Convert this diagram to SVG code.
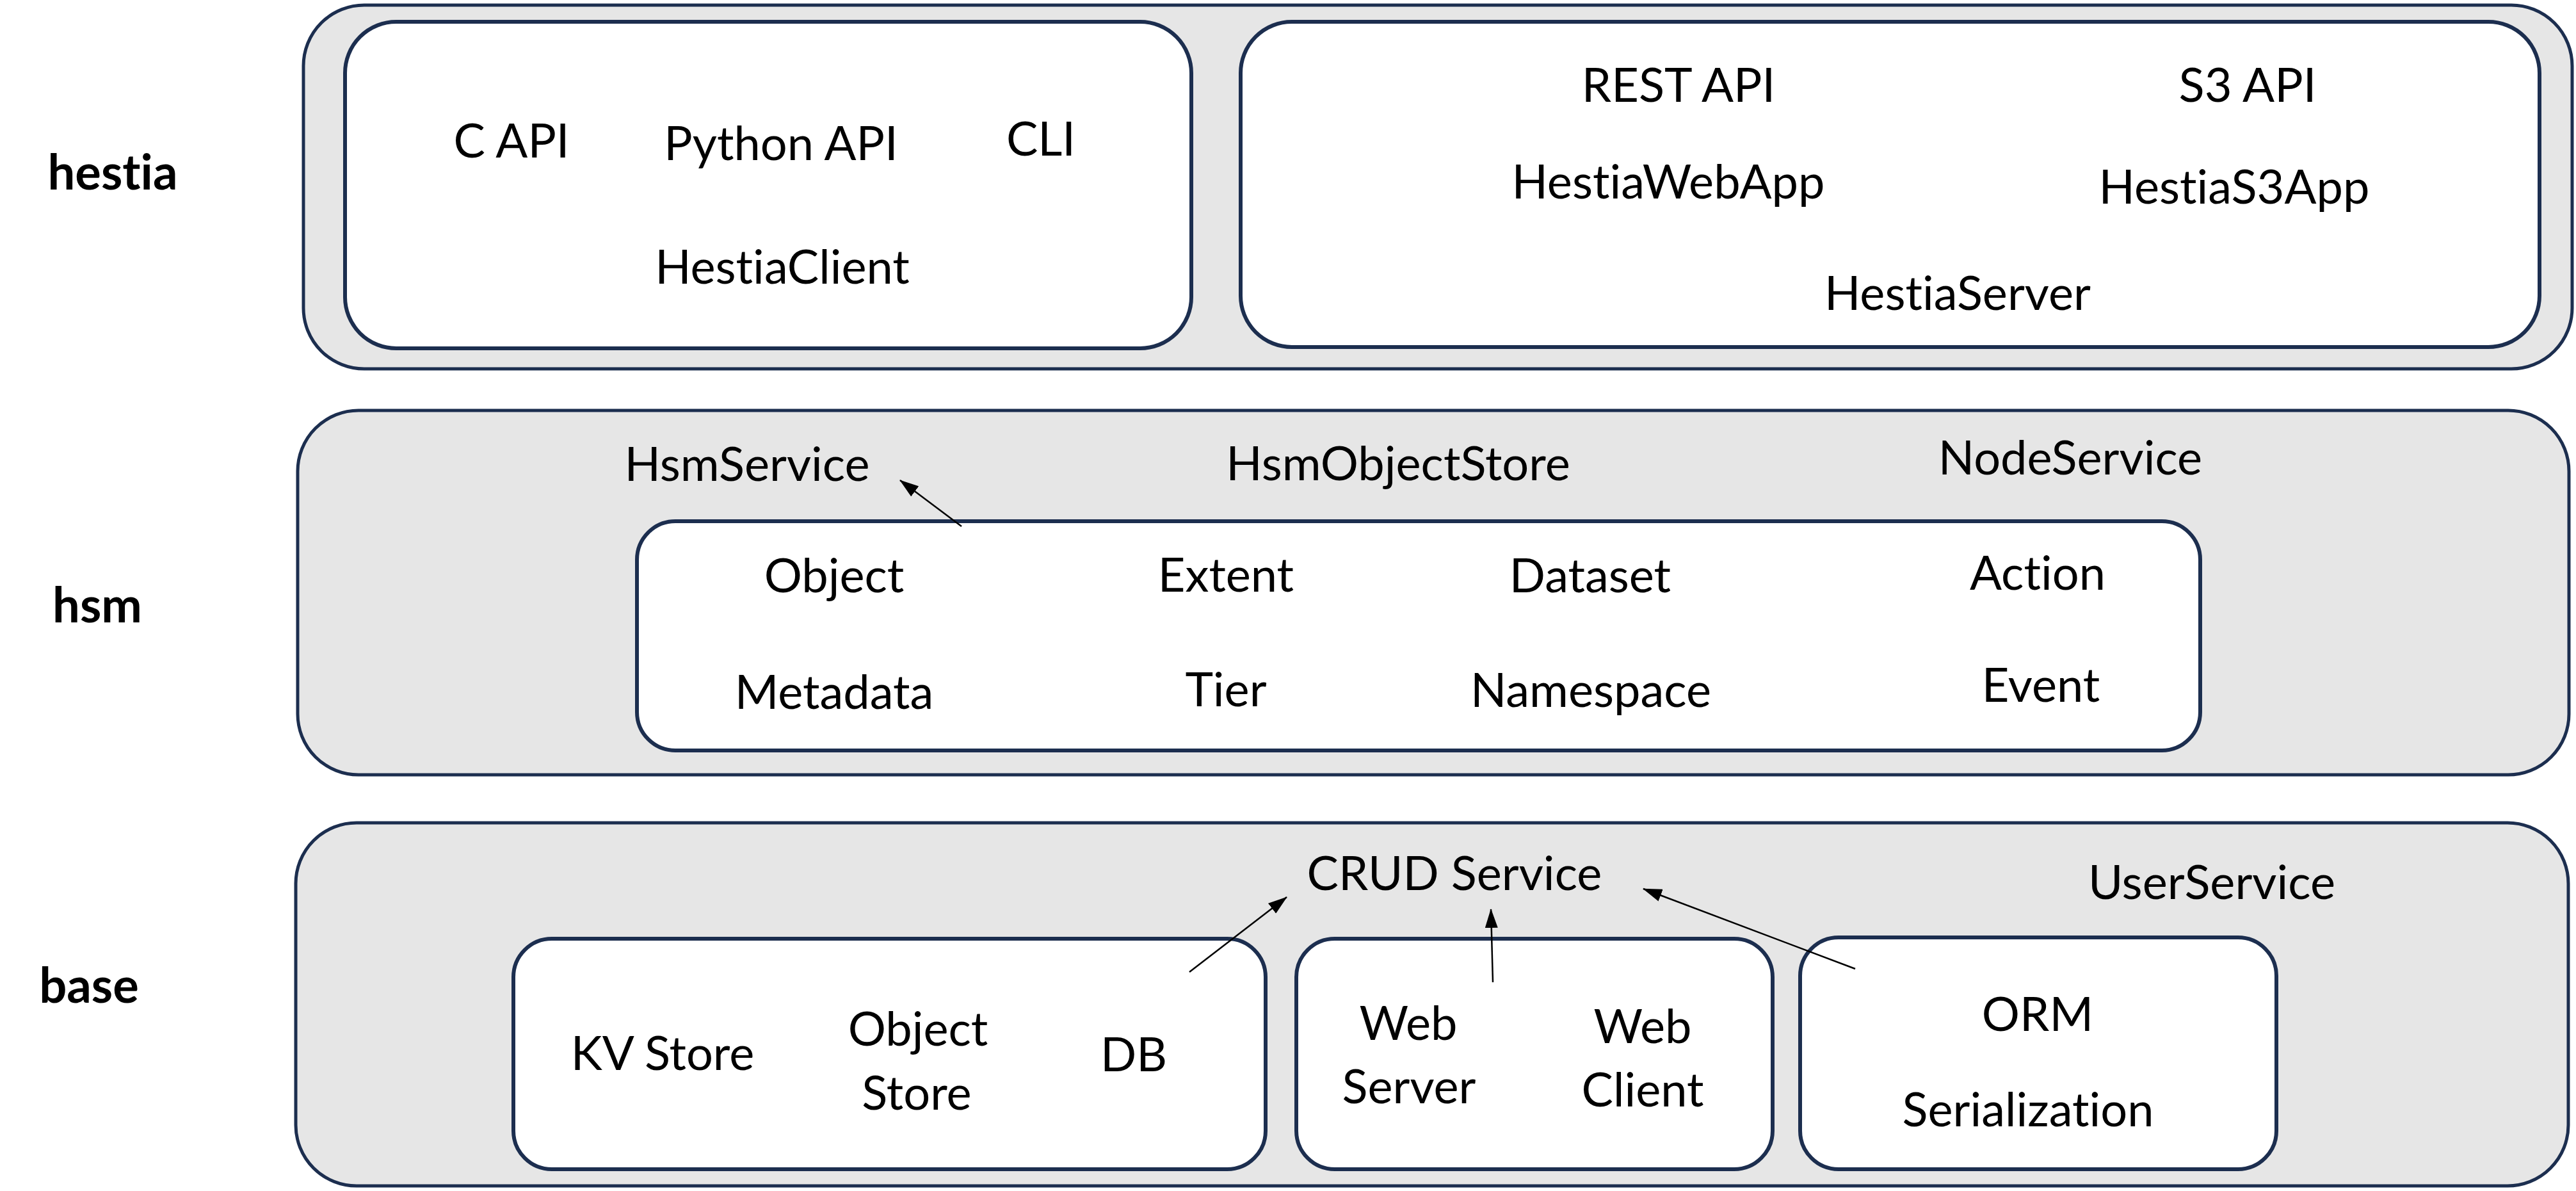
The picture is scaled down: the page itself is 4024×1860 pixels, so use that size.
<svg xmlns="http://www.w3.org/2000/svg" width="4024" height="1860" viewBox="0 0 4024 1860">
<style>
.outer{fill:#E6E6E6;stroke:#1C2E4F;stroke-width:5}
.inner{fill:#FFFFFF;stroke:#1C2E4F;stroke-width:6}
.t{font-family:Lato,"Liberation Sans",sans-serif;font-size:74px;fill:#000;text-anchor:middle;font-variant-ligatures:none}
.lbl{font-family:Lato,"Liberation Sans",sans-serif;font-size:76px;font-weight:bold;fill:#000;text-anchor:middle;font-variant-ligatures:none}
.c{stroke:#000;stroke-width:2.5;fill:none}
</style>
<defs>
<marker id="ah" markerUnits="userSpaceOnUse" markerWidth="30" markerHeight="20" viewBox="0 0 30 20" refX="29" refY="10" orient="auto">
<path d="M0,0 L30,10 L0,20 z" fill="#000"/>
</marker>
</defs>
<rect width="4024" height="1860" fill="#FFFFFF"/>

<g id="layer-hestia">
<rect class="outer" x="474" y="8" width="3544" height="568" rx="95" ry="95"/>
<text class="lbl" x="176" y="296">hestia</text>
</g>
<g id="hestia-client">
<rect class="inner" x="539" y="34" width="1322" height="510" rx="80" ry="80"/>
<text class="t" x="799" y="246">C API</text>
<text class="t" x="1220" y="250">Python API</text>
<text class="t" x="1626" y="243">CLI</text>
<text class="t" x="1222" y="443">HestiaClient</text>
</g>
<g id="hestia-server">
<rect class="inner" x="1938" y="34" width="2029" height="508" rx="80" ry="80"/>
<text class="t" x="2622" y="159">REST API</text>
<text class="t" x="3511" y="159">S3 API</text>
<text class="t" x="2606" y="310">HestiaWebApp</text>
<text class="t" x="3490" y="318">HestiaS3App</text>
<text class="t" x="3058" y="484">HestiaServer</text>
</g>

<g id="layer-hsm">
<rect class="outer" x="465" y="641" width="3548" height="569" rx="95" ry="95"/>
<text class="lbl" x="152" y="972">hsm</text>
<text class="t" x="1167" y="751">HsmService</text>
<text class="t" x="2184" y="750">HsmObjectStore</text>
<text class="t" x="3234" y="741">NodeService</text>
</g>
<g id="hsm-model">
<rect class="inner" x="995" y="814" width="2442" height="358" rx="60" ry="60"/>
<text class="t" x="1303" y="925">Object</text>
<text class="t" x="1915" y="924">Extent</text>
<text class="t" x="2484" y="925">Dataset</text>
<text class="t" x="3183" y="921">Action</text>
<text class="t" x="1303" y="1107">Metadata</text>
<text class="t" x="1915" y="1103">Tier</text>
<text class="t" x="2485" y="1104">Namespace</text>
<text class="t" x="3188" y="1096">Event</text>
</g>

<g id="layer-base">
<rect class="outer" x="462" y="1285" width="3550" height="567" rx="95" ry="95"/>
<text class="lbl" x="139" y="1566">base</text>
<text class="t" x="2272" y="1390">CRUD Service</text>
<text class="t" x="3455" y="1404">UserService</text>
</g>
<g id="base-storage">
<rect class="inner" x="802" y="1466" width="1175" height="360" rx="60" ry="60"/>
<text class="t" x="1035" y="1671">KV Store</text>
<text class="t" x="1434" y="1633">Object</text>
<text class="t" x="1432" y="1733">Store</text>
<text class="t" x="1771" y="1673">DB</text>
</g>
<g id="base-web">
<rect class="inner" x="2025" y="1466" width="744" height="360" rx="60" ry="60"/>
<text class="t" x="2200" y="1624">Web</text>
<text class="t" x="2201" y="1723">Server</text>
<text class="t" x="2566" y="1629">Web</text>
<text class="t" x="2566" y="1728">Client</text>
</g>
<g id="base-orm">
<rect class="inner" x="2812" y="1464" width="744" height="362" rx="60" ry="60"/>
<text class="t" x="3183" y="1610">ORM</text>
<text class="t" x="3168" y="1759">Serialization</text>
</g>

<g id="connectors">
<line class="c" x1="1502" y1="822" x2="1406" y2="750" marker-end="url(#ah)"/>
<line class="c" x1="1858" y1="1518" x2="2010" y2="1401" marker-end="url(#ah)"/>
<line class="c" x1="2332" y1="1534" x2="2329" y2="1420" marker-end="url(#ah)"/>
<line class="c" x1="2898" y1="1513" x2="2567" y2="1388" marker-end="url(#ah)"/>
</g>
</svg>
